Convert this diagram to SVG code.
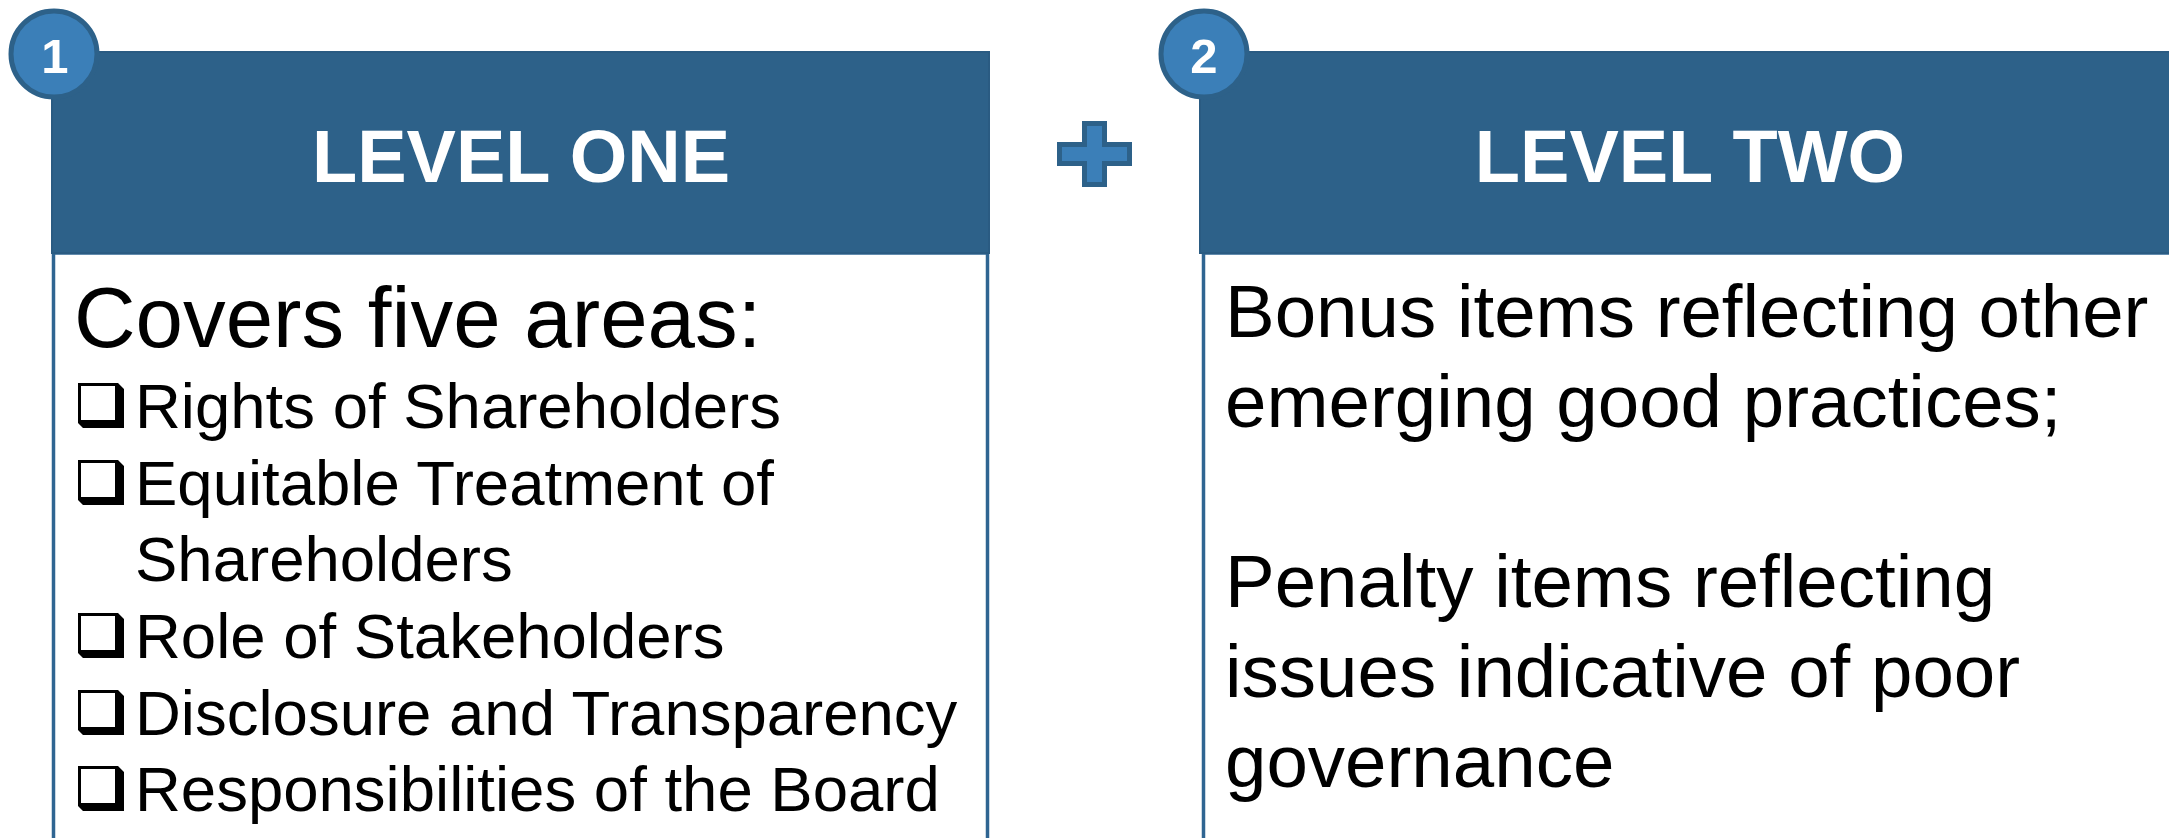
<svg xmlns="http://www.w3.org/2000/svg" width="2169" height="838" viewBox="0 0 2169 838">
<style>
.hdr{fill:#2D6189;stroke:#2A5B82;stroke-width:2}
.body{fill:#FFFFFF;stroke:#2F6592;stroke-width:3.5}
.badge{fill:#3B7FB8;stroke:#2D6189;stroke-width:5}
.badgeTxt{font-family:"Liberation Sans",Arial,sans-serif;font-weight:bold;font-size:49px;fill:#FFFFFF;text-anchor:middle}
.title{font-family:"Liberation Sans",Arial,sans-serif;font-weight:bold;font-size:74px;fill:#FFFFFF;text-anchor:middle}
.lead{font-family:"Liberation Sans",Arial,sans-serif;font-size:85.3px;fill:#000000}
.item{font-family:"Liberation Sans",Arial,sans-serif;font-size:63.5px;fill:#000000}
.txt2{font-family:"Liberation Sans",Arial,sans-serif;font-size:74.5px;fill:#000000}
</style>
<defs>
<g id="chk">
<polygon points="118,-45 124,-39 124,0 83,0 78,-5 118,-5" fill="#000000"/>
<rect x="79.5" y="-43.5" width="37" height="37" fill="#FFFFFF" stroke="#000000" stroke-width="3"/>
</g>
</defs>
<rect width="2169" height="838" fill="#FFFFFF"/>
<g id="level-one">
<rect class="body" x="53.5" y="253" width="934" height="620"/>
<rect class="hdr" x="52" y="52" width="937" height="201"/>
<text class="title" x="521" y="182">LEVEL ONE</text>
<text class="lead" x="74" y="347">Covers five areas:</text>
<use href="#chk" y="428"/>
<text class="item" x="135" y="428">Rights of Shareholders</text>
<use href="#chk" y="505"/>
<text class="item" x="135" y="505">Equitable Treatment of</text>
<text class="item" x="135" y="581">Shareholders</text>
<use href="#chk" y="658"/>
<text class="item" x="135" y="658">Role of Stakeholders</text>
<use href="#chk" y="735"/>
<text class="item" x="135" y="735">Disclosure and Transparency</text>
<use href="#chk" y="811"/>
<text class="item" x="135" y="811">Responsibilities of the Board</text>
</g>
<g id="badge-1">
<circle class="badge" cx="54" cy="54" r="43"/>
<text class="badgeTxt" x="55" y="73">1</text>
</g>
<g id="plus">
<polygon points="1084.5,123.5 1104.5,123.5 1104.5,144.5 1129.5,144.5 1129.5,163.5 1104.5,163.5 1104.5,184.5 1084.5,184.5 1084.5,163.5 1059.5,163.5 1059.5,144.5 1084.5,144.5" fill="#3B7FB8" stroke="#2D6189" stroke-width="5"/>
</g>
<g id="level-two">
<rect class="body" x="1203.5" y="253" width="1000" height="620"/>
<rect class="hdr" x="1200" y="52" width="1000" height="201"/>
<text class="title" x="1690" y="182">LEVEL TWO</text>
<text class="txt2" x="1225" y="337">Bonus items reflecting other</text>
<text class="txt2" x="1225" y="427">emerging good practices;</text>
<text class="txt2" x="1225" y="607">Penalty items reflecting</text>
<text class="txt2" x="1225" y="697">issues indicative of poor</text>
<text class="txt2" x="1225" y="787">governance</text>
</g>
<g id="badge-2">
<circle class="badge" cx="1204" cy="54" r="43"/>
<text class="badgeTxt" x="1204" y="73">2</text>
</g>
<g id="connectors"></g>
</svg>
